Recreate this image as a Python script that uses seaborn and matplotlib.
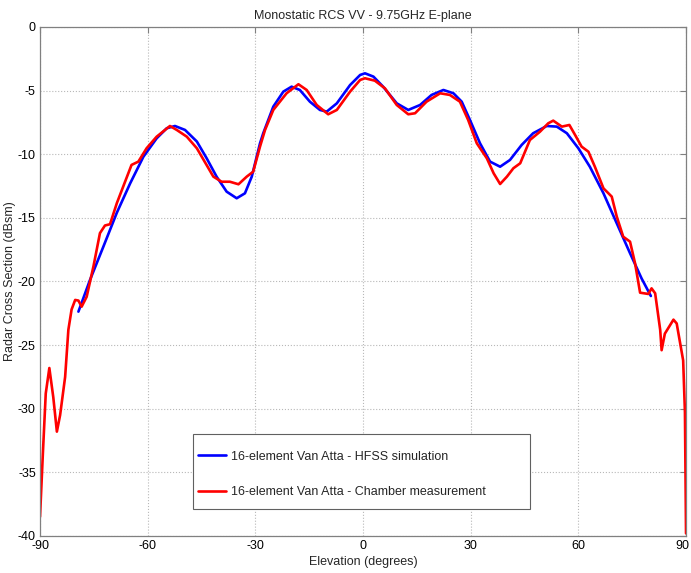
import matplotlib
matplotlib.use("Agg")
from matplotlib import pyplot as plt
from matplotlib.patches import Rectangle
from matplotlib.transforms import ScaledTranslation
import pandas as pd
import seaborn as sns

# HFSS simulation (blue)
sim_elev = [-79.3, -76.1, -72.4, -68.6, -64.9, -61.2, -57.5, -54.7, -52.4, -49.6, -46.3,
            -43.6, -40.8, -38.0, -35.2, -32.9, -31.0, -28.7, -27.8, -25.0, -22.2, -19.9,
            -17.6, -14.8, -12.0, -10.1, -7.3, -3.6, -0.8, 0.55, 2.9, 5.6, 9.4, 12.6, 15.9,
            19.1, 22.4, 25.2, 27.5, 29.8, 32.6, 35.4, 38.2, 40.95, 44.2, 47.4, 51.2, 54.0,
            56.8, 60.0, 63.2, 67.0, 70.7, 74.4, 77.6, 80.2]
sim_rcs = [-22.37, -19.9, -17.3, -14.6, -12.3, -10.2, -8.75, -7.96, -7.78, -8.09, -9.0,
           -10.3, -11.76, -12.94, -13.46, -13.07, -11.76, -9.14, -8.35, -6.26, -5.08, -4.69,
           -4.95, -5.87, -6.52, -6.65, -6.0, -4.56, -3.77, -3.64, -3.9, -4.69, -6.0, -6.52,
           -6.13, -5.34, -4.95, -5.21, -5.87, -7.31, -9.14, -10.58, -10.98, -10.45, -9.27,
           -8.35, -7.78, -7.83, -8.35, -9.53, -10.98, -13.07, -15.43, -17.78, -19.75, -21.14]

# chamber measurement (red)
meas_elev = [-90.0, -89.2, -88.4, -87.4, -86.3, -85.3, -84.4, -83.0, -82.1, -81.2, -80.2,
             -79.3, -78.4, -77.0, -75.1, -73.3, -71.9, -70.5, -68.6, -66.3, -64.5, -62.6,
             -60.3, -57.5, -53.8, -51.9, -49.1, -46.3, -43.6, -41.7, -39.4, -37.1, -34.7,
             -32.4, -30.6, -28.7, -27.3, -25.0, -21.3, -18.0, -15.7, -12.9, -9.7, -7.3,
             -3.6, -0.8, 0.55, 3.3, 6.1, 9.4, 12.6, 14.5, 17.7, 21.5, 24.2, 27.0, 29.3,
             31.7, 34.5, 36.4, 38.2, 40.1, 41.9, 43.8, 46.5, 49.3, 51.6, 53.0, 55.4, 57.5,
             59.1, 60.9, 62.8, 64.6, 67.0, 69.3, 70.7, 72.5, 74.4, 75.8, 77.2, 79.5, 80.4,
             81.4, 82.8, 83.2, 84.1, 86.5, 87.4, 89.2, 89.7, 90.0]
meas_rcs = [-38.5, -33.5, -28.8, -26.8, -29.1, -31.8, -30.5, -27.5, -23.8, -22.2, -21.45,
            -21.5, -21.98, -21.2, -18.8, -16.2, -15.6, -15.5, -13.85, -12.16, -10.84,
            -10.58, -9.53, -8.62, -7.78, -8.09, -8.62, -9.53, -10.84, -11.76, -12.16,
            -12.16, -12.36, -11.76, -11.37, -9.4, -8.09, -6.52, -5.21, -4.5, -4.95, -6.13,
            -6.86, -6.52, -5.08, -4.16, -4.03, -4.22, -4.82, -6.13, -6.86, -6.78, -5.87,
            -5.21, -5.34, -5.87, -7.31, -9.14, -10.32, -11.5, -12.34, -11.76, -11.1, -10.71,
            -8.88, -8.23, -7.57, -7.36, -7.83, -7.7, -8.49, -9.4, -9.8, -10.98, -12.68,
            -13.33, -14.9, -16.48, -16.87, -18.57, -20.88, -20.98, -20.54, -20.93, -23.8,
            -25.4, -24.1, -23.0, -23.3, -26.2, -30.3, -39.8]

sim = pd.DataFrame({"elev": sim_elev, "rcs": sim_rcs})
meas = pd.DataFrame({"elev": meas_elev, "rcs": meas_rcs})

sns.set_style("white")
plt.rcParams["font.family"] = ["Liberation Sans", "DejaVu Sans"]
plt.rcParams["axes.unicode_minus"] = False

fig = plt.figure(figsize=(6.91, 5.73), dpi=100)
ax = fig.add_axes([0.0579, 0.0646, 0.9349, 0.8883])

sns.lineplot(data=sim, x="elev", y="rcs", color="#0000ff", linewidth=1.9,
             label="16-element Van Atta - HFSS simulation", ax=ax)
sns.lineplot(data=meas, x="elev", y="rcs", color="#ff0000", linewidth=1.9,
             label="16-element Van Atta - Chamber measurement", ax=ax)

ax.set_xlim(-90, 90)
ax.set_ylim(-40, 0)
ax.set_xticks(range(-90, 91, 30))
ax.set_yticks(range(-40, 1, 5))
ax.grid(True, color="#b8b8b8", linestyle=":", linewidth=0.8)
for s in ax.spines.values():
    s.set_color("#808080")
    s.set_linewidth(0.9)
ax.tick_params(direction="in", length=4, color="#808080", labelcolor="black",
               labelsize=9, pad=3, top=True, right=True)
# keep the last x label inside the figure
last = ax.get_xticklabels()[-1]
last.set_transform(last.get_transform() + ScaledTranslation(-4 / 100, 0, fig.dpi_scale_trans))

ax.set_title("Monostatic RCS VV - 9.75GHz E-plane", fontsize=9, pad=6)
ax.set_xlabel("Elevation (degrees)", fontsize=9, labelpad=3)
ax.set_ylabel("Radar Cross Section (dBsm)", fontsize=9, labelpad=1.5)

# legend box drawn separately, entries placed inside it
ax.add_patch(Rectangle((0.2368, 0.053), 0.5217, 0.1474, transform=ax.transAxes,
                       facecolor="white", edgecolor="#606060", linewidth=0.8, zorder=4))
leg = ax.legend(loc="center left", bbox_to_anchor=(0.2446, 0.1208),
                fontsize=9, frameon=False, labelspacing=1.9, borderpad=0,
                handlelength=2.2, handletextpad=0.45, borderaxespad=0)
leg.set_zorder(5)

fig.savefig("out.png", dpi=100)
